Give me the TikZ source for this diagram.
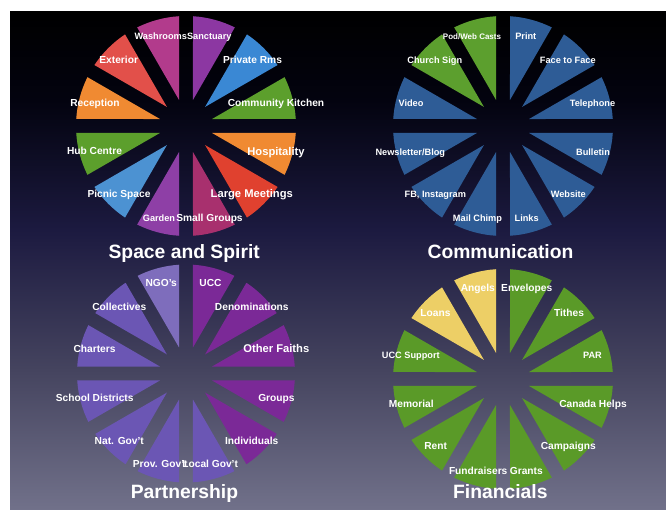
\documentclass[tikz,border=0pt]{standalone}
\usepackage{fontspec}
\setmainfont{Liberation Sans}
\definecolor{bgtop}{HTML}{000000}
\definecolor{bgone}{HTML}{03030F}
\definecolor{bgtwo}{HTML}{1C1A40}
\definecolor{bgthree}{HTML}{45445F}
\definecolor{bgbot}{HTML}{71718A}
\definecolor{kgreen}{HTML}{5C9F2C}
\definecolor{rblue}{HTML}{3A88D4}
\definecolor{spurple}{HTML}{8C37A2}
\definecolor{wpink}{HTML}{B23B8C}
\definecolor{ered}{HTML}{E2504A}
\definecolor{rorange}{HTML}{F08A32}
\definecolor{gpurple}{HTML}{8E3FA6}
\definecolor{pblue}{HTML}{4C92D2}
\definecolor{smag}{HTML}{A8306E}
\definecolor{lred}{HTML}{E0412F}
\definecolor{comblue}{HTML}{2E5C96}
\definecolor{podgreen}{HTML}{5C9F2E}
\definecolor{lav}{HTML}{6B56B4}
\definecolor{ngolav}{HTML}{7E6DBC}
\definecolor{uccpurple}{HTML}{7B2997}
\definecolor{fgreen}{HTML}{5A9A28}
\definecolor{fyellow}{HTML}{EDCF66}
\begin{document}
\begin{tikzpicture}
	[	x=1pt,y=1pt,
	lbl/.style={text=white,inner sep=0pt,text height=7pt,text depth=0pt,font=\fontsize{10.2}{12}\selectfont\bfseries},
	lblS/.style={lbl,font=\fontsize{9.2}{11}\selectfont\bfseries},
	lblL/.style={lbl,font=\fontsize{11.2}{13}\selectfont\bfseries},
	title/.style={text=white,inner sep=0pt,anchor=base,font=\fontsize{19.3}{23}\selectfont\bfseries}
	]
	\useasboundingbox (0,0) rectangle (666,510);
	\fill[white] (0,0) rectangle (666,510);
	\shade[top color=bgtop,bottom color=bgone] (10,409.5) rectangle (666,498);
	\shade[top color=bgone,bottom color=bgtwo] (10,279.5) rectangle (666,410);
	\shade[top color=bgtwo,bottom color=bgthree] (10,139.5) rectangle (666,280);
	\shade[top color=bgthree,bottom color=bgbot] (10,0) rectangle (666,140);

	\begin{scope}[shift={(186,384)}]
		\foreach \a/\col in {0/kgreen,30/rblue,60/spurple,90/wpink,120/ered,150/rorange,180/kgreen,210/pblue,240/gpurple,270/smag,300/lred,330/rorange}
			\fill[\col] (\a+15:27pt) -- (\a+3.65:110pt) arc[start angle=\a+3.65,end angle=\a+26.35,radius=110pt] -- cycle;
	\end{scope}
	\begin{scope}[shift={(503,384)}]
		\foreach \a/\col in {0/comblue,30/comblue,60/comblue,90/podgreen,120/podgreen,150/comblue,180/comblue,210/comblue,240/comblue,270/comblue,300/comblue,330/comblue}
			\fill[\col] (\a+15:27pt) -- (\a+3.65:110pt) arc[start angle=\a+3.65,end angle=\a+26.35,radius=110pt] -- cycle;
	\end{scope}
	\begin{scope}[shift={(186,136.5)}]
		\foreach \a/\col in {0/uccpurple,30/uccpurple,60/uccpurple,90/ngolav,120/lav,150/lav,180/lav,210/lav,240/lav,270/lav,300/uccpurple,330/uccpurple}
			\fill[\col] (\a+15:27pt) -- (\a+3.65:109pt) arc[start angle=\a+3.65,end angle=\a+26.35,radius=109pt] -- cycle;
	\end{scope}
	\begin{scope}[shift={(503,131)}]
		\foreach \a/\col in {0/fgreen,30/fgreen,60/fgreen,90/fyellow,120/fyellow,150/fgreen,180/fgreen,210/fgreen,240/fgreen,270/fgreen,300/fgreen,330/fgreen}
			\fill[\col] (\a+15:27pt) -- (\a+3.65:110pt) arc[start angle=\a+3.65,end angle=\a+26.35,radius=110pt] -- cycle;
	\end{scope}

	\node[lblS] (washrooms) at (160.8,474.3){Washrooms};
	\node[lblS] (sanctuary) at (209.3,474.3){Sanctuary};
	\node[lbl] (privaterms) at (252.5,449.7){Private Rms};
	\node[lbl] (kitchen) at (276,407){Community Kitchen};
	\node[lblL] (hospitality) at (276,358.3){Hospitality};
	\node[lblL] (largemeet) at (251.8,316){Large Meetings};
	\node[lbl] (smallgroups) at (209.5,291.7){Small Groups};
	\node[lblS] (garden) at (159,291.7){Garden};
	\node[lbl] (picnic) at (119,316.3){Picnic Space};
	\node[lbl] (hubcentre) at (94.5,358.7){Hub Centre};
	\node[lbl] (reception) at (95,407){Reception};
	\node[lbl] (exterior) at (118.7,449.7){Exterior};

	\node[lblS] (print) at (525.8,474.3){Print};
	\node[lblS] (facetoface) at (567.8,449.7){Face to Face};
	\node[lblS] (telephone) at (592.5,407){Telephone};
	\node[lblS] (bulletin) at (593,358.3){Bulletin};
	\node[lblS] (website) at (568.3,316.3){Website};
	\node[lblS] (links) at (526.7,292){Links};
	\node[lblS] (mailchimp) at (477.5,292){Mail Chimp};
	\node[lblS] (fbinsta) at (435.3,316.3){FB, Instagram};
	\node[lblS] (newsletter) at (410.3,358.3){Newsletter/Blog};
	\node[lblS] (video) at (411,407){Video};
	\node[lblS] (churchsign) at (434.8,449.7){Church Sign};
	\node[lbl,font=\fontsize{8}{10}\selectfont\bfseries] (podcasts) at (472,474.3){Pod/Web Casts};

	\node[lbl] (ngos) at (161.2,227.3){NGO's};
	\node[lbl] (ucc) at (210.5,227.3){UCC};
	\node[lbl] (collectives) at (119.3,202.7){Collectives};
	\node[lbl] (denominations) at (251.8,202.7){Denominations};
	\node[lbl] (charters) at (94.5,160.7){Charters};
	\node[lblL] (otherfaiths) at (276.3,160.7){Other Faiths};
	\node[lbl] (schooldist) at (94.7,112){School Districts};
	\node[lbl] (groups) at (276.4,112){Groups};
	\node[lbl] (natgov) at (119.3,69.3){Nat. Gov't};
	\node[lbl] (individuals) at (251.7,69.3){Individuals};
	\node[lbl] (provgov) at (160.2,46){Prov. Gov't};
	\node[lbl] (localgov) at (210.2,46){Local Gov't};

	\node[lbl] (angels) at (477.8,221.7){Angels};
	\node[lbl] (envelopes) at (526.7,221.7){Envelopes};
	\node[lbl] (loans) at (435.5,197.3){Loans};
	\node[lbl] (tithes) at (569,197.3){Tithes};
	\node[lblS] (uccsupport) at (410.8,154.7){UCC Support};
	\node[lblS] (par) at (592.5,154.7){PAR};
	\node[lbl] (memorial) at (411.3,106){Memorial};
	\node[lbl] (canadahelps) at (593,106){Canada Helps};
	\node[lbl] (rent) at (435.7,64){Rent};
	\node[lbl] (campaigns) at (568.3,64){Campaigns};
	\node[lbl] (fundraisers) at (478.2,39.3){Fundraisers};
	\node[lbl] (grants) at (526.3,39.3){Grants};

	\node[title] (spacespirit) at (184.2,251){Space and Spirit};
	\node[title] (communication) at (500.5,251){Communication};
	\node[title] (partnership) at (184.5,11){Partnership};
	\node[title] (financials) at (500.3,11){Financials};
\end{tikzpicture}
\end{document}
